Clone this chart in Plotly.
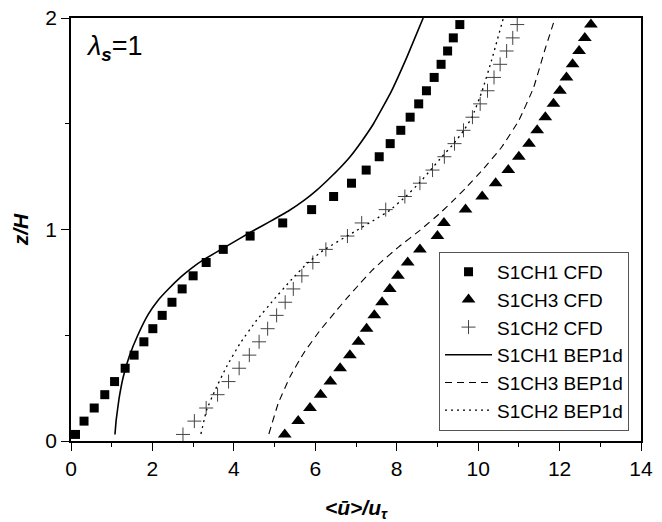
import plotly.graph_objects as go

# Heights (z/H) of the CFD sampling levels
z_cfd = [0.031, 0.094, 0.156, 0.219, 0.281, 0.344, 0.406, 0.469, 0.531, 0.594,
         0.656, 0.719, 0.781, 0.844, 0.906, 0.969, 1.031, 1.094, 1.156, 1.219,
         1.281, 1.344, 1.406, 1.469, 1.531, 1.594, 1.656, 1.719, 1.781, 1.844,
         1.906, 1.969]

# CFD mean velocity profiles <u>/u_tau
u_s1ch1_cfd = [0.11, 0.32, 0.57, 0.83, 1.07, 1.33, 1.55, 1.79, 2.01, 2.24,
               2.48, 2.73, 3.00, 3.32, 3.74, 4.40, 5.20, 5.91, 6.45, 6.89,
               7.25, 7.57, 7.84, 8.10, 8.33, 8.54, 8.73, 8.92, 9.09, 9.25,
               9.39, 9.55]
u_s1ch3_cfd = [5.25, 5.58, 5.87, 6.13, 6.37, 6.61, 6.85, 7.06, 7.26, 7.45,
               7.64, 7.83, 8.03, 8.27, 8.57, 9.00, 9.16, 9.69, 10.10, 10.43,
               10.74, 11.00, 11.25, 11.45, 11.65, 11.85, 12.01, 12.17, 12.32, 12.48,
               12.62, 12.77]
u_s1ch2_cfd = [2.75, 3.03, 3.32, 3.60, 3.87, 4.13, 4.38, 4.62, 4.83, 5.05,
               5.26, 5.46, 5.67, 5.94, 6.26, 6.79, 7.14, 7.73, 8.20, 8.57,
               8.88, 9.17, 9.42, 9.64, 9.86, 10.05, 10.23, 10.39, 10.54, 10.70,
               10.85, 10.96]

# BEP1d model profiles
z_s1ch1_bep = [0.031, 0.10, 0.20, 0.30, 0.40, 0.50, 0.60, 0.666, 0.72, 0.776,
               0.82, 0.855, 0.905, 0.957, 1.00, 1.036, 1.09, 1.14, 1.185, 1.233,
               1.28, 1.343, 1.42, 1.50, 1.642, 1.815, 2.0]
u_s1ch1_bep = [1.08, 1.11, 1.18, 1.28, 1.43, 1.64, 1.90, 2.14, 2.40, 2.70,
               2.98, 3.24, 3.68, 4.14, 4.53, 4.87, 5.36, 5.74, 6.03, 6.30,
               6.55, 6.85, 7.15, 7.43, 7.84, 8.25, 8.65]

z_s1ch3_bep = [0.033, 0.178, 0.304, 0.414, 0.524, 0.619, 0.674, 0.745, 0.808, 0.847,
               0.918, 0.996, 1.075, 1.135, 1.193, 1.28, 1.39, 1.516, 1.67, 1.85,
               2.0]
u_s1ch3_bep = [4.86, 5.09, 5.38, 5.71, 6.12, 6.53, 6.77, 7.10, 7.40, 7.62,
               8.05, 8.57, 9.05, 9.38, 9.68, 10.10, 10.58, 11.00, 11.36, 11.64,
               11.89]

z_s1ch2_bep = [0.033, 0.146, 0.241, 0.351, 0.461, 0.571, 0.666, 0.76, 0.84, 0.902,
               0.996, 1.045, 1.091, 1.156, 1.219, 1.281, 1.344, 1.406, 1.469, 1.531,
               1.656, 1.80, 2.0]
u_s1ch2_bep = [3.19, 3.33, 3.54, 3.82, 4.15, 4.56, 4.97, 5.40, 5.80, 6.20,
               7.02, 7.45, 7.83, 8.22, 8.55, 8.83, 9.11, 9.40, 9.65, 9.85,
               10.10, 10.33, 10.62]

FONT = "Liberation Sans, Arial, sans-serif"

fig = go.Figure()

fig.add_trace(go.Scatter(
    x=u_s1ch1_cfd, y=z_cfd, mode="markers", name="S1CH1 CFD",
    marker=dict(symbol="square", size=9, color="black", line=dict(width=0))))
fig.add_trace(go.Scatter(
    x=u_s1ch3_cfd, y=z_cfd, mode="markers", name="S1CH3 CFD",
    marker=dict(symbol="triangle-up", size=12, color="black", line=dict(width=0))))
fig.add_trace(go.Scatter(
    x=u_s1ch2_cfd, y=z_cfd, mode="markers", name="S1CH2 CFD",
    marker=dict(symbol="cross-thin-open", size=10, color="#444444",
                line=dict(width=1, color="#444444"))))
fig.add_trace(go.Scatter(
    x=u_s1ch1_bep, y=z_s1ch1_bep, mode="lines", name="S1CH1 BEP1d",
    line=dict(color="black", width=1.6, shape="spline", smoothing=0.3)))
fig.add_trace(go.Scatter(
    x=u_s1ch3_bep, y=z_s1ch3_bep, mode="lines", name="S1CH3 BEP1d",
    line=dict(color="black", width=1.1, dash="7px,5px", shape="spline", smoothing=0.3)))
fig.add_trace(go.Scatter(
    x=u_s1ch2_bep, y=z_s1ch2_bep, mode="lines", name="S1CH2 BEP1d",
    line=dict(color="black", width=1.3, dash="2px,4px", shape="spline", smoothing=0.3)))

axis_common = dict(
    showline=True, linecolor="black", linewidth=1.6, mirror=True,
    showgrid=False, zeroline=False, automargin=False,
    ticks="outside", ticklen=8, tickwidth=1.3, tickcolor="black",
    tickfont=dict(family=FONT, size=21, color="black"),
)

fig.update_xaxes(
    range=[0, 14], tick0=0, dtick=2,
    minor=dict(dtick=1, ticks="outside", ticklen=4, tickwidth=1.3, tickcolor="black"),
    title=dict(text="<b><i>&lt;ū&gt;/u<sub>τ</sub></i></b>",
               font=dict(family=FONT, size=21, color="black"), standoff=24),
    **axis_common,
)
fig.update_yaxes(
    range=[0, 2], tick0=0, dtick=1,
    minor=dict(dtick=0.5, ticks="outside", ticklen=4, tickwidth=1.3, tickcolor="black"),
    title=dict(text="<b><i>z/H</i></b>",
               font=dict(family=FONT, size=21, color="black"), standoff=11),
    **axis_common,
)

fig.add_annotation(
    text="<i>λ</i><sub><b><i>s</i></b></sub>=1",
    xref="paper", yref="paper", x=0.022, y=0.975,
    xanchor="left", yanchor="top", showarrow=False,
    font=dict(family=FONT, size=27, color="black"),
)

fig.update_layout(
    width=662, height=522,
    margin=dict(l=71, r=21, t=18, b=81),
    paper_bgcolor="white", plot_bgcolor="white",
    showlegend=True,
    legend=dict(
        x=0.979, y=0.024, xanchor="right", yanchor="bottom",
        bgcolor="white", bordercolor="#555555", borderwidth=1,
        font=dict(family=FONT, size=19, color="black"),
        itemwidth=47, tracegroupgap=0,
    ),
)

fig.write_html("out.html")
